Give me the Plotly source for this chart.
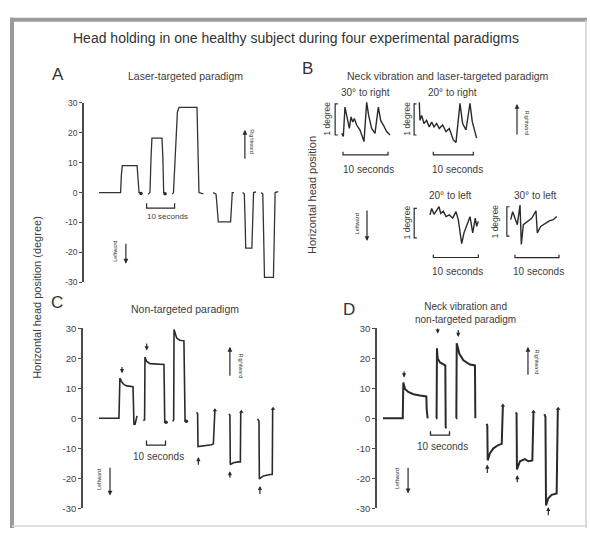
import plotly.graph_objects as go

W, H = 590, 533
FONT = "Liberation Sans, Arial, Helvetica, sans-serif"
INK = "#2a2a2a"
TEXT = "#3c3c3c"

# ---------------- data ----------------
# shared degree axis for panels A, C, D
AXIS_TICKS = [30, 20, 10, 0, -10, -20, -30]
AXIS_TICK_TEXT = ["30", "20", "10", "0", "-10", "-20", "-30"]
SCALE_BAR_SECONDS = 10

# Panel A: laser-targeted paradigm (time in s, position in degree)
A_TIME = [
    [0, 7.7, 8.0, 8.3, 13.6, 13.9, 14.3, 15.0],
    [17.5, 18.2, 18.6, 18.9, 22.5, 22.8, 23.1, 23.6],
    [26.2, 26.6, 28.0, 28.6, 35.0, 35.3, 35.7, 37.3],
    [40.8, 41.8, 42.2, 42.6, 47.0, 47.4, 47.6, 48.2],
    [51.3, 51.9, 52.2, 52.4, 54.6, 55.0, 55.2, 56.1],
    [57.9, 58.5, 58.8, 59.1, 62.3, 62.6, 62.9, 64.0],
]
A_DEG = [
    [0, 0, 6, 9, 9, 6, 0, -0.3],
    [-0.6, 0, 12, 18.2, 18.2, 12, 0, -0.4],
    [-0.5, 0, 27, 28.5, 28.5, 10, 0, -0.4],
    [0, -0.5, -5, -9.8, -9.8, -3, 0, 0],
    [0, -0.5, -10, -18.6, -18.6, -10, 0, 0.2],
    [0, -0.5, -14, -28.4, -28.4, -14, 0, 0.3],
]
A_DOT_SEGMENTS = [0, 1]
A_SCALE_START, A_SCALE_DEG = 17.0, -5.2
A_RIGHTWARD = (52.1, 10.8, 21.0)   # time, tail, tip
A_LEFTWARD = (9.6, -16.6, -23.8)

# Panel C: non-targeted paradigm
C_TIME = [
    [0, 10.5, 11.0, 12.1, 13.2, 14.7, 17.9, 18.4, 19.0, 20.0],
    [23.3, 24.0, 24.2, 25.0, 26.8, 30.0, 34.2, 34.6, 35.3],
    [38.8, 39.3, 39.5, 40.9, 42.5, 44.7, 45.3, 46.0],
    [51.4, 51.9, 52.1, 54.7, 59.3, 60.2, 60.7, 61.0],
    [68.4, 68.9, 69.1, 70.7, 73.3, 74.4, 74.6, 74.9],
    [83.5, 84.2, 84.4, 86.5, 90.0, 91.2, 91.4, 91.6],
]
C_DEG = [
    [0, 0, 13.4, 12.0, 11.2, 10.8, 10.5, -2.0, -2.0, 0.8],
    [-0.7, -0.5, 20.4, 19.0, 18.2, 18.0, 17.9, -1.3, -1.3],
    [-1.0, -0.5, 29.6, 26.7, 26.0, 25.8, -1.0, -1.0],
    [2.0, 1.5, -9.4, -9.2, -8.8, -8.5, 2.5, 2.7],
    [1.4, 1.0, -15.4, -14.8, -14.5, -14.5, 2.0, 2.2],
    [-0.2, -1.0, -20.2, -19.2, -18.7, -18.7, 3.0, 3.2],
]
C_ARROW_TIME = [12.1, 25.1, 39.5, 52.3, 68.9, 84.7]
C_ARROW_TAIL = [17.6, 25.4, 34.5, -16.0, -20.3, -25.7]
C_ARROW_TIP = [15.0, 22.6, 31.8, -12.9, -17.6, -22.5]
C_SCALE_START, C_SCALE_DEG = 25.0, -8.9
C_RIGHTWARD = (68.9, 13.7, 23.8)
C_LEFTWARD = (5.8, -16.0, -25.7)

# Panel D: neck vibration and non-targeted paradigm
D_TIME = [
    [0, 10.4, 10.7, 11.6, 13.3, 16.0, 19.5, 22.8, 23.0, 23.2, 23.5],
    [27.9, 28.2, 28.4, 28.8, 30.0, 32.1, 32.8, 33.0, 33.3],
    [38.4, 38.6, 38.8, 40.2, 42.3, 45.8, 48.4, 48.6],
    [54.6, 54.9, 55.1, 56.3, 58.1, 60.7, 62.5, 62.9, 63.1],
    [70.0, 70.3, 70.5, 72.1, 74.7, 76.5, 78.6, 79.0, 79.2],
    [84.9, 85.5, 85.8, 87.0, 88.8, 91.4, 92.0, 92.2],
]
D_DEG = [
    [0, 0, 11.9, 9.8, 8.8, 8.0, 7.6, 7.3, 3.0, 0.5, 0],
    [0, 0, 23.3, 19.9, 18.6, 17.9, 17.6, -3.0, -3.3],
    [0, 0, 25.0, 21.5, 19.3, 17.9, 17.6, 0],
    [-1.8, -2.5, -14.0, -11.6, -10.0, -8.9, -8.5, 4.1, 4.3],
    [2.0, 1.5, -17.0, -14.3, -13.6, -14.3, -14.0, 2.0, 2.2],
    [1.4, 0.5, -29.0, -26.6, -25.5, -25.0, 3.0, 3.2],
]
D_ARROW_TIME = [11.1, 28.8, 39.6, 54.9, 70.7, 87.0]
D_ARROW_TAIL = [16.1, 30.4, 29.9, -18.7, -21.8, -32.8]
D_ARROW_TIP = [13.6, 28.2, 27.1, -15.4, -18.9, -29.5]
D_SCALE_START, D_SCALE_DEG = 25.0, -5.6
D_RIGHTWARD = (76.3, 14.0, 23.8)
D_LEFTWARD = (13.2, -16.0, -25.0)

# Panel B: neck vibration and laser-targeted paradigm (relative degree)
B_LABELS = ["30° to right", "20° to right", "20° to left", "30° to left"]
B_TIME = [
    [-0.29, 0.07, 0.44, 0.96, 1.41, 1.78, 2.16, 2.52, 3.04, 3.78, 4.67, 5.26,
     5.70, 6.37, 7.11, 7.85, 8.37, 8.96, 9.70, 10.44],
    [-3.5, -3.33, -2.9, -2.33, -1.67, -1.0, -0.4, 0.17, 0.83, 1.5, 2.33, 3.17,
     4.0, 5.0, 5.67, 6.67, 7.33, 8.17, 9.17, 9.75, 10.83],
    [-0.73, -0.36, 0.16, 0.76, 1.27, 1.64, 2.22, 2.82, 3.56, 4.31, 5.04, 5.56,
     6.31, 6.82, 7.56, 8.16, 8.76, 9.33, 9.64, 10.0],
    [-0.98, -0.53, 0.0, 0.53, 1.14, 1.44, 1.89, 2.8, 3.79, 4.77, 5.07, 5.84,
     6.82, 7.8, 8.7, 9.48],
]
B_DEG = [
    [0.05, -0.05, 0.90, 0.53, 0.21, 0.58, 0.42, 0.53, 0.32, 0.16, -0.21, 1.05,
     0.63, 0.21, 0.05, 0.90, 0.47, 0.32, 0.11, 0.0],
    [1.05, 0.47, 0.63, 0.37, 0.47, 0.26, 0.42, 0.26, 0.37, 0.21, 0.32, 0.11,
     0.21, -0.16, -0.24, 1.02, 0.37, 0.16, 1.02, 0.42, -0.10],
    [0.78, 1.0, 0.8, 0.95, 1.06, 0.83, 0.91, 0.72, 0.78, 0.67, 0.89, 0.61,
     -0.2, 0.17, 0.45, 0.72, 0.17, 0.67, 0.39, 0.56],
    [0.56, 0.83, 0.61, 0.39, 1.06, -0.28, 0.39, 0.5, 0.61, 0.86, 0.11, 0.33,
     0.44, 0.52, 0.56, 0.67],
]
B_BRACKET_TIME = [-1.75, -4.8, -4.25, -1.85]
B_BRACKET_DEG = 1
B_BAR_DEG = [-0.64, -0.64, -0.67, -0.73]

# ---------------- layout helpers ----------------
def fx(p):
    return p / W


def fy(p):
    return 1 - p / H


def span(lo, hi, origin, scale):
    return [(lo - origin) / scale, (hi - origin) / scale]


layout_axes = {}


def add_axes(n, px_l, px_r, py_t, py_b, xr, yr, show_y=False, tick_size=9):
    xk = "xaxis" if n == 1 else f"xaxis{n}"
    yk = "yaxis" if n == 1 else f"yaxis{n}"
    xa = "x" if n == 1 else f"x{n}"
    ya = "y" if n == 1 else f"y{n}"
    layout_axes[xk] = dict(domain=[fx(px_l), fx(px_r)], range=xr, visible=False,
                           anchor=ya)
    ydict = dict(domain=[fy(py_b), fy(py_t)], range=yr, anchor=xa,
                 showgrid=False, zeroline=False)
    if show_y:
        ydict.update(showline=True, linecolor="#4a4a4a", linewidth=1.6,
                     ticks="outside", ticklen=3, tickwidth=1.2, tickcolor="#4a4a4a",
                     tickvals=AXIS_TICKS, ticktext=AXIS_TICK_TEXT,
                     tickfont=dict(family=FONT, size=tick_size, color="#444"))
    else:
        ydict.update(visible=False)
    layout_axes[yk] = ydict
    return xa, ya


# main panels
axA = add_axes(1, 84, 290, 99, 282, span(84, 290, 99, 2.8), [-30, 30], True, 8.5)
axC = add_axes(2, 83, 290, 329, 513, span(83, 290, 99, 1.9), [-30, 30], True, 9.5)
axD = add_axes(3, 377, 575, 329, 513, span(377, 575, 383, 1.9), [-30, 30], True, 9.5)

# small panels of B: (px_l, px_r, py_t, py_b, x_origin, x_scale, y_origin, y_scale)
B_BOXES = [
    (330, 395, 93, 160, 343.0, 4.5, 131.7, 31.7),
    (410, 482, 93, 160, 433.3, 4.0, 131.7, 31.7),
    (410, 482, 200, 262, 433.3, 4.5, 236.7, 30.0),
    (503, 562, 200, 262, 515.0, 4.4, 235.0, 30.0),
]
axB = []
for i, (l, r, t, b, ox, sx, oy, sy) in enumerate(B_BOXES):
    axB.append(add_axes(4 + i, l, r, t, b, span(l, r, ox, sx),
                        [(oy - b) / sy, (oy - t) / sy]))

traces = []


def line(x, y, ax, width=1.3, color=INK):
    traces.append(go.Scatter(x=x, y=y, xaxis=ax[0], yaxis=ax[1], mode="lines",
                             line=dict(color=color, width=width),
                             hoverinfo="skip", showlegend=False))


def ends(x, y, ax, symbol, size):
    traces.append(go.Scatter(x=x, y=y, xaxis=ax[0], yaxis=ax[1], mode="markers",
                             marker=dict(symbol=symbol, size=size, color=INK),
                             hoverinfo="skip", showlegend=False))


def scale_bar(start, deg, ax, tick, width=1.3):
    t1 = start + SCALE_BAR_SECONDS
    line([start, start, t1, t1], [deg + tick, deg, deg, deg + tick], ax, width)


# panel traces
for t, d in zip(A_TIME, A_DEG):
    line(t, d, axA, 1.3, "#333")
ends([A_TIME[i][-1] for i in A_DOT_SEGMENTS], [A_DEG[i][-1] for i in A_DOT_SEGMENTS],
     axA, "circle", 3.5)
for t, d in zip(C_TIME, C_DEG):
    line(t, d, axC, 1.6)
ends([C_TIME[i][-1] for i in (1, 2)], [C_DEG[i][-1] for i in (1, 2)], axC, "circle", 3.5)
ends([C_TIME[i][-1] for i in (3, 4, 5)], [C_DEG[i][-1] for i in (3, 4, 5)],
     axC, "triangle-up", 4)
for t, d in zip(D_TIME, D_DEG):
    line(t, d, axD, 2.0)
ends([D_TIME[i][-1] for i in (3, 4, 5)], [D_DEG[i][-1] for i in (3, 4, 5)],
     axD, "triangle-up", 4)

scale_bar(A_SCALE_START, A_SCALE_DEG, axA, 1.6, 1.2)
scale_bar(C_SCALE_START, C_SCALE_DEG, axC, 1.5, 1.3)
scale_bar(D_SCALE_START, D_SCALE_DEG, axD, 1.3, 1.3)

for i, ax in enumerate(axB):
    line(B_TIME[i], B_DEG[i], ax, 1.4)
    bt = B_BRACKET_TIME[i]
    line([bt + 0.6, bt, bt, bt + 0.6], [B_BRACKET_DEG, B_BRACKET_DEG, 0, 0], ax, 1.2)
    scale_bar(0, B_BAR_DEG[i], ax, 0.1, 1.2)

fig = go.Figure(traces)

annotations = []


def label(text, x, y, size, angle=0, color=TEXT, xanchor="center"):
    annotations.append(dict(text=text, x=fx(x), y=fy(y), xref="paper", yref="paper",
                            xanchor=xanchor, yanchor="middle", showarrow=False,
                            textangle=angle, borderpad=0,
                            font=dict(family=FONT, size=size, color=color)))


def data_arrow(ax, t, tail, tip, width=1.2, size=0.8):
    annotations.append(dict(x=t, y=tip, ax=t, ay=tail, xref=ax[0], yref=ax[1],
                            axref=ax[0], ayref=ax[1], showarrow=True, text="",
                            arrowhead=2, arrowsize=size, arrowwidth=width,
                            arrowcolor=INK))


def paper_arrow(x, y_tail, y_tip, width=1.2):
    annotations.append(dict(x=fx(x), y=fy(y_tip), xref="paper", yref="paper",
                            ax=0, ay=y_tail - y_tip, showarrow=True, text="",
                            arrowhead=2, arrowsize=0.8, arrowwidth=width,
                            arrowcolor=INK))


# titles and panel letters
label("Head holding in one healthy subject during four experimental paradigms",
      296, 33, 14, color="#333")
label("A", 58, 70, 17, color="#333")
label("B", 307, 64, 17, color="#333")
label("C", 57, 303, 17, color="#333")
label("D", 349, 310, 17, color="#333")
label("Laser-targeted paradigm", 185, 71, 10.5)
label("Neck vibration and laser-targeted paradigm", 448, 71, 10.5)
label("Non-targeted paradigm", 185, 309, 10.5)
label("Neck vibration and<br>non-targeted paradigm", 465, 313, 10)
label("Horizontal head position (degree)", 37, 298, 11, angle=-90)
label("Horizontal head position", 312, 193, 11, angle=-90)

# scale bar captions
label("10 seconds", 167, 215, 8)
label("10 seconds", 158, 460, 10)
label("10 seconds", 442, 450, 10)
for (cx, cy) in [(368, 167), (457, 167), (457, 271), (538, 271)]:
    label("10 seconds", cx, cy, 10)

# B captions
for txt, (cx, cy) in zip(B_LABELS, [(365, 88), (452, 88), (450, 194), (535, 194)]):
    label(txt, cx, cy, 10)
for (cx, cy) in [(327, 115), (407, 115), (407, 221), (495, 220)]:
    label("1 degree", cx, cy, 8.5, angle=-90)

# direction arrows and captions
data_arrow(axA, A_RIGHTWARD[0], A_RIGHTWARD[1], A_RIGHTWARD[2])
data_arrow(axA, A_LEFTWARD[0], A_LEFTWARD[1], A_LEFTWARD[2])
label("Rightward", 252, 138, 5.5, angle=90)
label("Leftward", 115, 251, 5.5, angle=-90)

data_arrow(axC, C_RIGHTWARD[0], C_RIGHTWARD[1], C_RIGHTWARD[2])
data_arrow(axC, C_LEFTWARD[0], C_LEFTWARD[1], C_LEFTWARD[2])
label("Rightward", 241, 367, 5.5, angle=90)
label("Leftward", 99, 484, 5.5, angle=-90)

data_arrow(axD, D_RIGHTWARD[0], D_RIGHTWARD[1], D_RIGHTWARD[2])
data_arrow(axD, D_LEFTWARD[0], D_LEFTWARD[1], D_LEFTWARD[2])
label("Rightward", 537, 363, 5.5, angle=90)
label("Leftward", 397, 483, 5.5, angle=-90)

paper_arrow(517, 132, 100)
paper_arrow(367, 208, 240)
label("Rightward", 527, 119, 5.5, angle=90)
label("Leftward", 357, 223, 5.5, angle=-90)

# arrows marking the peaks of each hold
for t, a, b in zip(C_ARROW_TIME, C_ARROW_TAIL, C_ARROW_TIP):
    data_arrow(axC, t, a, b, 1.2, 0.7)
for t, a, b in zip(D_ARROW_TIME, D_ARROW_TAIL, D_ARROW_TIP):
    data_arrow(axD, t, a, b, 1.2, 0.7)

# frame around the figure
shapes = [
    dict(type="line", xref="paper", yref="paper", x0=fx(12), x1=fx(12),
         y0=fy(12), y1=fy(533), line=dict(color="#9a9a9a", width=4)),
    dict(type="line", xref="paper", yref="paper", x0=fx(10), x1=fx(587),
         y0=fy(14), y1=fy(14), line=dict(color="#9a9a9a", width=4)),
    dict(type="line", xref="paper", yref="paper", x0=fx(586), x1=fx(586),
         y0=fy(14), y1=fy(533), line=dict(color="#cfcfcf", width=1.5)),
    dict(type="line", xref="paper", yref="paper", x0=fx(12), x1=fx(587),
         y0=fy(531), y1=fy(531), line=dict(color="#d6d6d6", width=1.5)),
]

fig.update_layout(
    width=W, height=H, margin=dict(l=0, r=0, t=0, b=0),
    paper_bgcolor="white", plot_bgcolor="rgba(0,0,0,0)",
    showlegend=False, annotations=annotations, shapes=shapes,
    font=dict(family=FONT, color=TEXT),
    **layout_axes,
)

fig.write_html("out.html")
